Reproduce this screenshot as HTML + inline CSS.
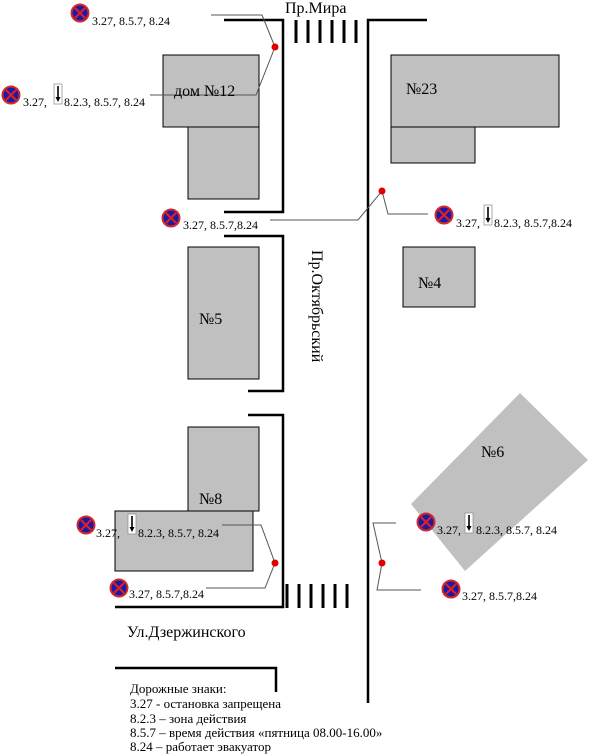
<!DOCTYPE html>
<html><head><meta charset="utf-8"><style>body{margin:0;background:#fff}svg{display:block}text{font-family:"Liberation Serif",serif;fill:#000}</style></head><body>
<svg width="606" height="754" viewBox="0 0 606 754">
<defs>
<g id="s"><circle r="8.5" fill="#1a1aa8" stroke="#d42a2a" stroke-width="2"/><line x1="-5" y1="-5" x2="5" y2="5" stroke="#e02020" stroke-width="2.2"/><line x1="5" y1="-5" x2="-5" y2="5" stroke="#e02020" stroke-width="2.2"/></g>
<g id="a"><rect x="0" y="0" width="8" height="20" fill="#fff" stroke="#888" stroke-width="0.7"/><line x1="4" y1="2" x2="4" y2="15" stroke="#000" stroke-width="1.6"/><path d="M1.5,13 L6.5,13 L4,18 Z" fill="#000"/></g>
</defs>
<g fill="#c0c0c0" stroke="#000" stroke-width="1">
<rect x="163" y="55" width="96" height="72"/><rect x="188" y="127" width="71" height="72"/>
<rect x="391" y="55" width="168" height="72"/><rect x="391" y="127" width="84" height="36"/>
<rect x="188" y="247" width="71" height="132"/><rect x="403" y="247" width="72" height="60"/>
<rect x="188" y="427" width="71" height="84"/><rect x="115" y="511" width="138" height="60"/>
</g>
<polygon points="520,393 588,460 465,571 411,504" fill="#c0c0c0"/>
<g fill="none" stroke="#000" stroke-width="2.5">
<polyline points="224,20 283,20 283,212 224,212"/>
<polyline points="224,236 283,236 283,391 248,391"/>
<polyline points="248,415 283,415 283,607 115,607"/>
<polyline points="115,668 276,668 276,692"/>
<polyline points="427,20 368,20 368,703"/>
</g>
<g stroke="#000" stroke-width="3">
<line x1="296" y1="20" x2="296" y2="43"/><line x1="308" y1="20" x2="308" y2="43"/><line x1="320" y1="20" x2="320" y2="43"/><line x1="332" y1="20" x2="332" y2="43"/><line x1="344" y1="20" x2="344" y2="43"/><line x1="356" y1="20" x2="356" y2="43"/>
<line x1="287" y1="584" x2="287" y2="608"/><line x1="299" y1="584" x2="299" y2="608"/><line x1="311" y1="584" x2="311" y2="608"/><line x1="323" y1="584" x2="323" y2="608"/><line x1="335" y1="584" x2="335" y2="608"/><line x1="347" y1="584" x2="347" y2="608"/>
</g>
<g fill="none" stroke="#555" stroke-width="1">
<polyline points="211,15 262,15 275,47 256,95 150,95"/>
<polyline points="270,220 358,220 382,191 388,214 428,214"/>
<polyline points="222,525 261,525 275,563 265,588 206,588"/>
<polyline points="396,523 373,523 382,563 377,590 421,590"/>
</g>
<g fill="#e00000"><circle cx="275" cy="47" r="3.5"/><circle cx="382" cy="191" r="3.5"/><circle cx="275" cy="563" r="3.5"/><circle cx="382" cy="563" r="3.5"/></g>
<use href="#s" x="80" y="13"/><use href="#s" x="11" y="95"/><use href="#s" x="171" y="218"/><use href="#s" x="444" y="215"/>
<use href="#s" x="86" y="525"/><use href="#s" x="119" y="588"/><use href="#s" x="426" y="522"/><use href="#s" x="451" y="589"/>
<use href="#a" x="54" y="84"/><use href="#a" x="484" y="205"/><use href="#a" x="128" y="514"/><use href="#a" x="465" y="513"/>
<g font-size="12">
<text x="92" y="25">3.27, 8.5.7, 8.24</text>
<text x="23" y="106">3.27,</text><text x="64" y="106">8.2.3, 8.5.7, 8.24</text>
<text x="183" y="229">3.27, 8.5.7,8.24</text>
<text x="456" y="227">3.27,</text><text x="494" y="227">8.2.3, 8.5.7,8.24</text>
<text x="96" y="537">3.27,</text><text x="138" y="537">8.2.3, 8.5.7, 8.24</text>
<text x="129" y="598">3.27, 8.5.7,8.24</text>
<text x="437" y="534">3.27,</text><text x="476" y="534">8.2.3, 8.5.7, 8.24</text>
<text x="462" y="600">3.27, 8.5.7,8.24</text>
</g>
<g font-size="16">
<text x="285" y="13">Пр.Мира</text>
<text x="174" y="96">дом №12</text>
<text x="406" y="94">№23</text>
<text x="199" y="324">№5</text>
<text x="418" y="288">№4</text>
<text x="199" y="504">№8</text>
<text x="481" y="457">№6</text>
<text x="127" y="637">Ул.Дзержинского</text>
<text transform="translate(312,250) rotate(90)">Пр.Октябрьский</text>
</g>
<g font-size="13">
<text x="130" y="693">Дорожные знаки:</text>
<text x="130" y="708">3.27 - остановка  запрещена</text>
<text x="130" y="723">8.2.3 – зона действия</text>
<text x="130" y="737">8.5.7 – время действия  «пятница 08.00-16.00»</text>
<text x="130" y="751">8.24 –  работает эвакуатор</text>
</g>
</svg>
</body></html>
